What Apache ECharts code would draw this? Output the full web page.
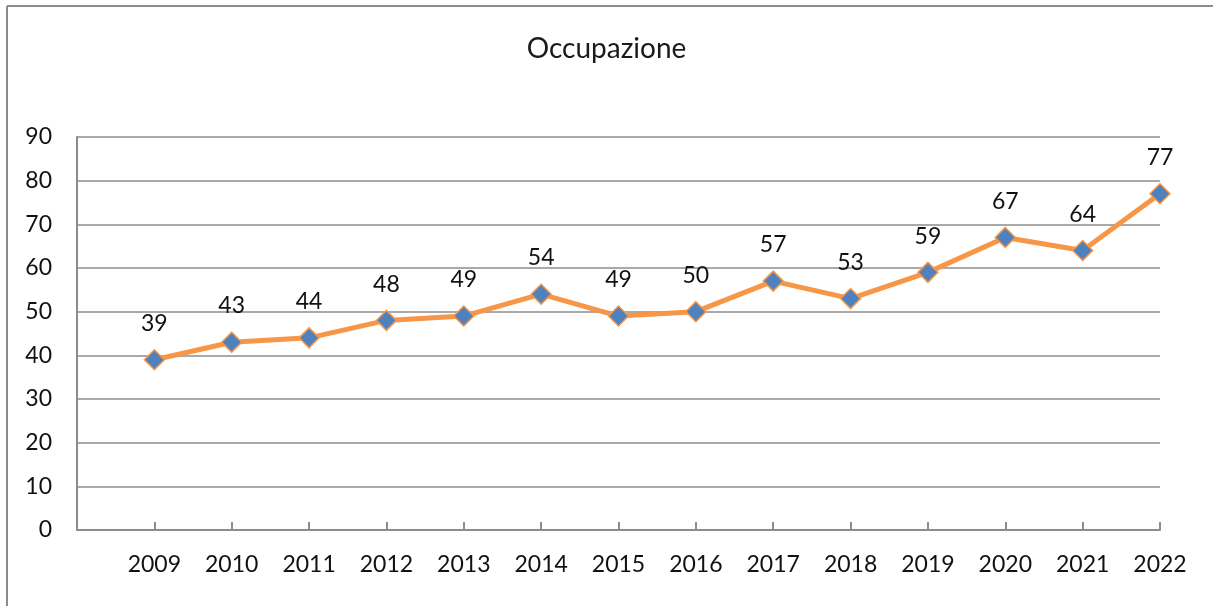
<!DOCTYPE html>
<html>
  <head>
    <meta charset="utf-8" />
    <title>Occupazione</title>
    <script src="https://cdn.jsdelivr.net/npm/echarts@6/dist/echarts.min.js"></script>
    <style>
      html, body { margin: 0; padding: 0; background: #fff; }
      #main { width: 1213px; height: 606px; }
    </style>
  </head>
  <body>
    <div id="main"></div>
    <script>
      // dati
      var anni = [2009, 2010, 2011, 2012, 2013, 2014, 2015, 2016, 2017, 2018, 2019, 2020, 2021, 2022]
      var occupazione = [39, 43, 44, 48, 49, 54, 49, 50, 57, 53, 59, 67, 64, 77]
      var yTicks = [0, 10, 20, 30, 40, 50, 60, 70, 80, 90]

      var punti = anni.map(function(a, i) { return [a, occupazione[i]] })

      var myChart = echarts.init(document.getElementById('main'))
      var font = 'Lato, "Open Sans", sans-serif'
      var option = {
        animation: false,
        title: {
          text: 'Occupazione',
          left: 'center',
          top: 30,
          textStyle: { fontFamily: font, fontSize: 28, fontWeight: 'normal', color: '#1a1a1a' }
        },
        grid: { left: 77, right: 53, top: 137, bottom: 76 },
        // bordo esterno (solo lati visibili)
        graphic: [
          { type: 'line', shape: { x1: 7, y1: 6, x2: 1213, y2: 6 }, style: { stroke: '#8c8c8c', lineWidth: 2 } },
          { type: 'line', shape: { x1: 7, y1: 6, x2: 7, y2: 606 }, style: { stroke: '#8c8c8c', lineWidth: 2 } }
        ],
        xAxis: {
          type: 'value',
          min: anni[0] - 1,
          max: anni[anni.length - 1],
          interval: 1,
          splitLine: { show: false },
          axisLine: { lineStyle: { color: '#8c8c8c', width: 2 } },
          axisTick: { inside: true, length: 8, lineStyle: { color: '#8c8c8c', width: 2 } },
          axisLabel: {
            margin: 23,
            fontFamily: font,
            fontSize: 23,
            color: '#111',
            formatter: function(v) { return anni.indexOf(v) >= 0 ? String(v) : '' }
          }
        },
        yAxis: {
          type: 'value',
          min: yTicks[0],
          max: yTicks[yTicks.length - 1],
          interval: 10,
          axisLine: { show: true, lineStyle: { color: '#8c8c8c', width: 2 } },
          axisTick: { show: false },
          splitLine: { lineStyle: { color: '#8c8c8c', width: 1.5 } },
          axisLabel: { margin: 25, fontFamily: font, fontSize: 23, color: '#111' }
        },
        series: [
          {
            name: 'Occupazione',
            type: 'line',
            data: punti,
            lineStyle: { color: '#F79646', width: 5 },
            symbol: 'diamond',
            symbolSize: 20,
            itemStyle: { color: '#4F81BD', borderColor: '#F79646', borderWidth: 1.5 },
            label: {
              show: true,
              position: 'top',
              distance: 14,
              fontFamily: font,
              fontSize: 23,
              color: '#111',
              formatter: function(p) { return p.value[1] }
            }
          }
        ]
      }
      myChart.setOption(option)
    </script>
  </body>
</html>
